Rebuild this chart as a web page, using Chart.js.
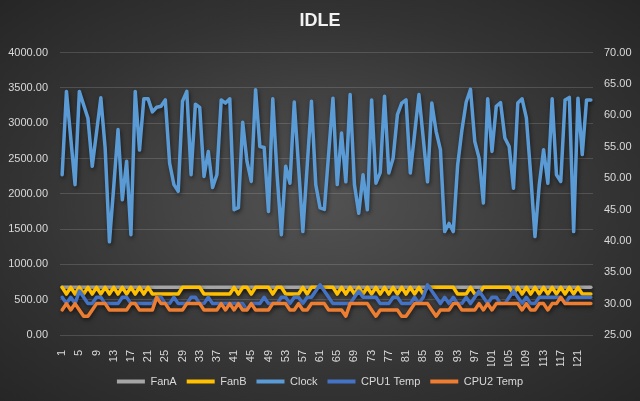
<!DOCTYPE html>
<html>
<head>
<meta charset="utf-8">
<script src="https://cdn.jsdelivr.net/npm/chart.js@4.4.1/dist/chart.umd.min.js"></script>
<style>
    html, body { margin: 0; padding: 0; background: #2a2a2a; }
    #wrap {
        width: 640px;
        height: 401px;
        position: relative;
        background: radial-gradient(ellipse at 50% 50%, #525252 0%, #454545 30%, #333333 65%, #262626 100%);
    }
</style>
</head>
<body>
<div id="wrap"><canvas id="chart" width="640" height="401"></canvas></div>
<script>
// samples 1..124
const categories = [
    1, 2, 3, 4, 5, 6, 7, 8, 9, 10, 11, 12, 13, 14, 15, 16, 17, 18, 19, 20,
    21, 22, 23, 24, 25, 26, 27, 28, 29, 30, 31, 32, 33, 34, 35, 36, 37, 38, 39, 40,
    41, 42, 43, 44, 45, 46, 47, 48, 49, 50, 51, 52, 53, 54, 55, 56, 57, 58, 59, 60,
    61, 62, 63, 64, 65, 66, 67, 68, 69, 70, 71, 72, 73, 74, 75, 76, 77, 78, 79, 80,
    81, 82, 83, 84, 85, 86, 87, 88, 89, 90, 91, 92, 93, 94, 95, 96, 97, 98, 99, 100,
    101, 102, 103, 104, 105, 106, 107, 108, 109, 110, 111, 112, 113, 114, 115, 116, 117, 118, 119, 120,
    121, 122, 123, 124,
];

const fanA = [
    675, 675, 675, 675, 675, 675, 675, 675, 675, 675, 675, 675, 675, 675, 675, 675, 675, 675, 675, 675,
    675, 675, 675, 675, 675, 675, 675, 675, 675, 675, 675, 675, 675, 675, 675, 675, 675, 675, 675, 675,
    675, 675, 675, 675, 675, 675, 675, 675, 675, 675, 675, 675, 675, 675, 675, 675, 675, 675, 675, 675,
    675, 675, 675, 675, 675, 675, 675, 675, 675, 675, 675, 675, 675, 675, 675, 675, 675, 675, 675, 675,
    675, 675, 675, 675, 675, 675, 675, 675, 675, 675, 675, 675, 675, 675, 675, 675, 675, 675, 675, 675,
    675, 675, 675, 675, 675, 675, 675, 675, 675, 675, 675, 675, 675, 675, 675, 675, 675, 675, 675, 675,
    675, 675, 675, 675,
];

const fanB = [
    675, 580, 675, 580, 675, 580, 675, 580, 675, 580,
    675, 580, 675, 580, 675, 580, 675, 580, 675, 580,
    675, 580, 580, 580, 580, 580, 580, 580, 675, 675,
    675, 675, 675, 580, 580, 580, 580, 580, 580, 580,
    675, 580, 675, 675, 580, 675, 675, 675, 675, 580,
    675, 675, 580, 580, 580, 580, 675, 580, 675, 675,
    675, 675, 675, 675, 580, 675, 580, 675, 580, 675,
    580, 675, 580, 675, 580, 675, 580, 675, 580, 675,
    580, 675, 580, 675, 580, 675, 675, 675, 675, 675,
    675, 675, 580, 580, 580, 675, 580, 580, 675, 675,
    675, 675, 675, 675, 675, 580, 675, 580, 675, 580,
    675, 580, 675, 580, 675, 580, 675, 580, 675, 580,
    675, 580, 580, 580,
];

const clock = [
    2270, 3450, 2790, 2130, 3450, 3260, 3070, 2390, 2870, 3360,
    2650, 1320, 2100, 2910, 1915, 2460, 1420, 3450, 2620, 3345,
    3345, 3160, 3225, 3240, 3330, 2435, 2130, 2035, 3310, 3450,
    2270, 3270, 3225, 2245, 2600, 2090, 2270, 3330, 3285, 3345,
    1775, 1805, 3015, 2460, 2175, 3475, 2670, 2655, 1750, 3345,
    2270, 1420, 2390, 2150, 3300, 2380, 1465, 2390, 3310, 2130,
    1800, 1780, 2570, 3355, 2130, 2860, 2170, 3405, 2130, 1725,
    2270, 1775, 3330, 2150, 2300, 3380, 2295, 2505, 3120, 3285,
    3330, 2295, 2850, 3405, 2790, 2170, 3285, 2885, 2625, 1465,
    1580, 1465, 2400, 2900, 3300, 3480, 2740, 2505, 1870, 3345,
    2600, 3240, 3290, 2790, 2670, 2080, 3285, 3345, 3075, 2270,
    1395, 2130, 2625, 2150, 3345, 2270, 2175, 3330, 3365, 1465,
    3355, 2555, 3330, 3330,
];

// temperatures go on the right axis
const cpu1Temp = [
    31, 30, 31, 30, 32, 31, 30, 30, 31, 31,
    30, 30, 30, 30, 31, 31, 30, 30, 30, 30,
    30, 30, 31, 31, 30, 30, 31, 30, 30, 30,
    31, 31, 30, 30, 31, 30, 30, 30, 30, 30,
    30, 30, 30, 29, 30, 30, 30, 31, 30, 30,
    30, 31, 31, 30, 31, 31, 30, 31, 31, 32,
    33, 32, 31, 30, 30, 30, 30, 30, 31, 32,
    31, 31, 31, 31, 30, 30, 30, 31, 31, 30,
    30, 30, 31, 30, 31, 33, 32, 31, 30, 31,
    30, 31, 30, 30, 31, 30, 31, 32, 31, 30,
    31, 31, 30, 30, 31, 32, 31, 30, 31, 30,
    30, 31, 31, 31, 31, 31, 31, 30, 31, 31,
    31, 31, 31, 31,
];

const cpu2Temp = [
    29, 30, 29, 30, 29, 28, 28, 29, 30, 30,
    30, 29, 29, 29, 29, 29, 30, 30, 29, 29,
    29, 29, 31, 30, 30, 29, 29, 29, 29, 30,
    30, 30, 30, 29, 29, 29, 29, 30, 29, 30,
    29, 30, 29, 29, 30, 29, 29, 29, 29, 30,
    30, 30, 30, 29, 29, 30, 29, 29, 30, 30,
    30, 30, 29, 29, 29, 29, 28, 30, 30, 30,
    30, 30, 29, 28, 29, 29, 29, 29, 29, 28,
    28, 29, 30, 30, 30, 30, 29, 28, 29, 29,
    29, 30, 30, 29, 29, 29, 29, 30, 29, 30,
    29, 30, 30, 30, 30, 30, 30, 29, 30, 29,
    29, 30, 30, 29, 30, 30, 31, 30, 30, 30,
    30, 30, 30, 30,
];

const leftTicks = { min: 0, max: 4000, step: 500 };
const rightTicks = { min: 25, max: 70, step: 5 };

const textColor = '#d9d9d9';
const gridColor = 'rgba(217, 217, 217, 0.18)';
const fontFamily = '"Liberation Sans", Arial, sans-serif';

// excel-ish drop shadow under every line
const lineShadow = {
    id: 'lineShadow',
    beforeDatasetDraw(chart) {
        const ctx = chart.ctx;
        ctx.save();
        ctx.shadowColor = 'rgba(0, 0, 0, 0.55)';
        ctx.shadowBlur = 4;
        ctx.shadowOffsetX = 1;
        ctx.shadowOffsetY = 2;
    },
    afterDatasetDraw(chart) {
        chart.ctx.restore();
    },
};

function series(label, data, color, axis, order) {
    return {
        label: label,
        data: data,
        borderColor: color,
        backgroundColor: color,
        borderWidth: 3.5,
        pointRadius: 0,
        tension: 0,
        borderJoinStyle: 'round',
        borderCapStyle: 'round',
        yAxisID: axis,
        order: order,
    };
}

new Chart(document.getElementById('chart'), {
    type: 'line',
    data: {
        labels: categories,
        datasets: [
            series('FanA', fanA, '#a5a5a5', 'y', 5),
            series('FanB', fanB, '#ffc000', 'y', 4),
            series('Clock', clock, '#5b9bd5', 'y', 3),
            series('CPU1 Temp', cpu1Temp, '#4472c4', 'y1', 2),
            series('CPU2 Temp', cpu2Temp, '#ed7d31', 'y1', 1),
        ],
    },
    options: {
        responsive: false,
        animation: false,
        layout: {
            padding: { left: 0, right: 0, top: 0, bottom: 4 },
        },
        plugins: {
            title: {
                display: true,
                text: 'IDLE',
                color: '#f2f2f2',
                font: { family: fontFamily, size: 18, weight: 'bold' },
                padding: { top: 10, bottom: 21 },
            },
            legend: {
                position: 'bottom',
                labels: {
                    color: textColor,
                    font: { family: fontFamily, size: 11 },
                    boxWidth: 28,
                    boxHeight: 4,
                    padding: 10,
                    sort: (a, b) => a.datasetIndex - b.datasetIndex,
                    generateLabels: (chart) => chart.data.datasets.map((ds, i) => ({
                        text: ds.label,
                        fillStyle: ds.borderColor,
                        strokeStyle: ds.borderColor,
                        lineWidth: 0,
                        fontColor: textColor,
                        hidden: false,
                        datasetIndex: i,
                    })),
                },
            },
            tooltip: { enabled: false },
        },
        scales: {
            x: {
                offset: true,
                grid: { display: false },
                border: { display: false },
                ticks: {
                    color: textColor,
                    font: { family: fontFamily, size: 11 },
                    autoSkip: false,
                    minRotation: 90,
                    maxRotation: 90,
                    padding: 7,
                    callback: (value, index) => (index % 4 === 0 ? categories[index] : ''),
                },
                afterFit: (scale) => { scale.height = 31; },
            },
            y: {
                position: 'left',
                min: leftTicks.min,
                max: leftTicks.max,
                grid: { color: gridColor, drawTicks: false },
                border: { display: false },
                ticks: {
                    stepSize: leftTicks.step,
                    color: textColor,
                    font: { family: fontFamily, size: 11 },
                    padding: 12,
                    callback: (v) => v.toFixed(2),
                },
                afterFit: (scale) => { scale.width = 60; },
            },
            y1: {
                position: 'right',
                min: rightTicks.min,
                max: rightTicks.max,
                grid: { display: false, drawTicks: false },
                border: { display: false },
                ticks: {
                    stepSize: rightTicks.step,
                    color: textColor,
                    font: { family: fontFamily, size: 11 },
                    padding: 11,
                    callback: (v) => v.toFixed(2),
                },
                afterFit: (scale) => { scale.width = 47; },
            },
        },
    },
    plugins: [lineShadow],
});
</script>
</body>
</html>
